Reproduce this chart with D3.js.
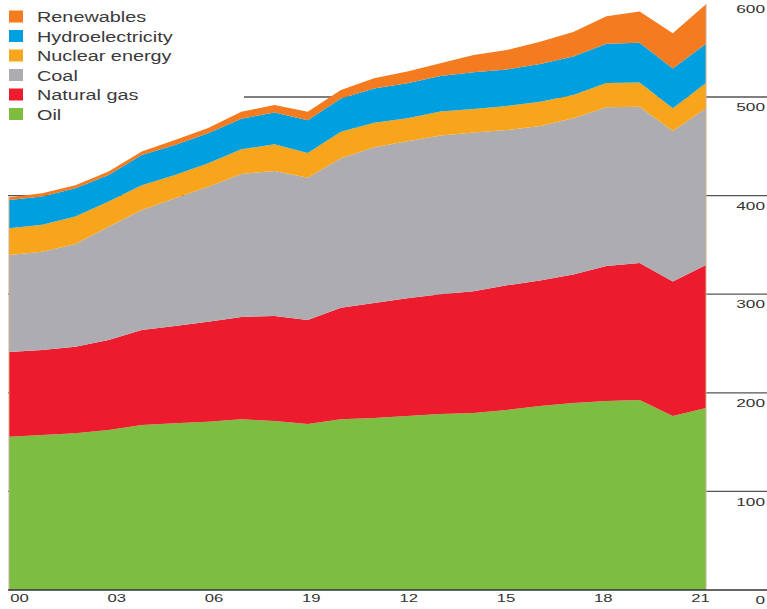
<!DOCTYPE html>
<html><head><meta charset="utf-8">
<script src="https://cdn.jsdelivr.net/npm/d3@7"></script>
<style>body{margin:0;background:#fff}svg{display:block}text{font-family:"Liberation Sans",Arial,sans-serif}</style>
</head><body>
<svg id="c" width="767" height="609"></svg>
<script>
const years = d3.range(2000, 2022);
const oil = [155.5,157.2,158.9,162.3,167.3,169,170.7,173.1,171.4,168.4,173.1,174.4,176.5,178.5,179.5,182.6,186.6,189.7,191.7,192.7,176.5,184.6];
const naturalGas = [86,86.2,87.8,91.2,96.4,98.8,101.4,103.9,106.6,105.4,113.2,116.6,119.5,121.5,123.5,126.4,127.4,130.3,137,139,136.5,145];
const coal = [98.3,99.6,104.2,115,121.7,129.5,137,145,147,144.2,151.5,158,159,161,161,157.5,156.6,158.4,161,158.4,152.5,159];
const nuclear = [27.2,27.4,27.9,25.5,25.2,23.6,23.8,25,27,25.3,27,25,23.4,24.2,23.9,24.4,24.7,23.6,24.5,24.5,23,25.5];
const hydro = [28.5,28.6,28.6,26.9,30.6,30.4,30.4,31,32.2,33.2,33.6,34.5,35.5,36.1,37.2,37,38.2,39,39.8,40.5,40.5,40];
const renewables = [2.8,3.4,3.2,3.5,3.4,5.1,5.2,7,7.7,8.5,8.6,10.5,11.9,13,17.6,19.7,22.5,25,28,31.5,35.6,40];
const seriesNames = ["Oil","Natural gas","Coal","Nuclear energy","Hydroelectricity","Renewables"];
const seriesColors = ["#7dbe42","#ec1c2e","#adacb0","#f8a51b","#009fdf","#f47b20"];
const xTickYears = [2000,2003,2006,2009,2012,2015,2018,2021];
const xTickLabels = ["00","03","06","19","12","15","18","21"];
const yTicks = [0,100,200,300,400,500,600];

const seriesValues = [oil, naturalGas, coal, nuclear, hydro, renewables];
const table = years.map((yr, i) => {
  const row = {year: yr};
  seriesNames.forEach((n, k) => row[n] = seriesValues[k][i]);
  return row;
});

const svg = d3.select("#c");
const x = d3.scaleLinear().domain([2000, 2021]).range([9, 706]);
const y = d3.scaleLinear().domain([0, 600]).range([590, -1.6]);
const xLab = d3.scaleLinear().domain([2000, 2021]).range([19, 700]);

// gridlines
svg.append("g").selectAll("line").data(yTicks.filter(v => v > 0)).join("line")
  .attr("x1", 8).attr("x2", 767)
  .attr("y1", d => y(d)).attr("y2", d => y(d))
  .attr("stroke", "#555").attr("stroke-width", 1.3);

// legend background (hides gridlines behind legend)
svg.append("rect").attr("x", 0).attr("y", 0).attr("width", 244).attr("height", 130).attr("fill", "#fff");

// stacked areas
const stack = d3.stack().keys(seriesNames);
const layers = stack(table);
const area = d3.area().x(d => x(d.data.year)).y0(d => y(d[0])).y1(d => y(d[1]));
svg.append("g").selectAll("path").data(layers).join("path")
  .attr("d", area).attr("fill", (d, i) => seriesColors[i]);

// edge lines
const totals = table.map(r => seriesNames.reduce((s, n) => s + r[n], 0));
svg.append("line").attr("x1", x(2000)).attr("x2", x(2000)).attr("y1", y(0)).attr("y2", y(totals[0]))
  .attr("stroke", "#cdb08e").attr("stroke-width", 1);
svg.append("line").attr("x1", x(2021)).attr("x2", x(2021)).attr("y1", y(0)).attr("y2", y(totals[totals.length-1]))
  .attr("stroke", "#cdb08e").attr("stroke-width", 1);

// baseline
svg.append("line").attr("x1", 8).attr("x2", 767).attr("y1", y(0)).attr("y2", y(0))
  .attr("stroke", "#333").attr("stroke-width", 1.6);

// bottom axis labels
const xAxis = d3.axisBottom(xLab).tickValues(xTickYears)
  .tickFormat((d, i) => xTickLabels[i]).tickSize(0).tickPadding(0);
const gx = svg.append("g").attr("transform", "translate(0,594)").call(xAxis);
gx.select(".domain").remove();
gx.selectAll("text").attr("font-size", 11.5).attr("fill", "#333")
  .attr("font-family", "'Liberation Sans', Arial, sans-serif")
  .attr("transform", "scale(1.45,1)");

// right axis labels
const yAxis = d3.axisLeft(y).tickValues(yTicks).tickFormat(d3.format("d")).tickSize(0).tickPadding(0);
const gy = svg.append("g").attr("transform", "translate(765,10)").call(yAxis);
gy.select(".domain").remove();
gy.selectAll("text").attr("font-size", 11.5).attr("fill", "#333")
  .attr("font-family", "'Liberation Sans', Arial, sans-serif")
  .attr("transform", "scale(1.5,1)");

// legend
const legendOrder = [5,4,3,2,1,0];
const lg = svg.append("g");
legendOrder.forEach((k, i) => {
  const cy = 16.5 + i * 19.5;
  lg.append("rect").attr("x", 9).attr("y", cy - 6).attr("width", 14).attr("height", 12).attr("fill", seriesColors[k]);
  lg.append("text").attr("transform", `translate(37,${cy}) scale(1.28,1)`)
    .attr("dy", "0.36em").attr("font-size", 15.5).attr("fill", "#3a3a3a").text(seriesNames[k]);
});
</script>
</body></html>
